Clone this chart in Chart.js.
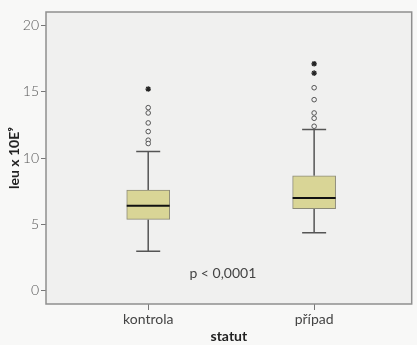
<!DOCTYPE html>
<html>
<head>
<meta charset="utf-8">
<script src="https://cdn.jsdelivr.net/npm/chart.js@4/dist/chart.umd.min.js"></script>
<style>
    html, body { margin: 0; padding: 0; background: #f8f8f7; }
    canvas { display: block; }
</style>
</head>
<body>
<canvas id="boxChart" width="417" height="345"></canvas>
<script>
const categories = ['kontrola', 'případ'];
const whiskerLow = [3.0, 4.38];
const quartile1 = [5.39, 6.2];
const medians = [6.41, 7.0];
const quartile3 = [7.59, 8.67];
const whiskerHigh = [10.5, 12.15];
const outlierCircles = [
    [13.8, 13.4, 12.65, 12.0, 11.35, 11.1],
    [15.3, 14.4, 13.4, 13.0, 12.4]
];
const outlierStars = [
    [15.2],
    [17.1, 16.4]
];
const yTicks = [0, 5, 10, 15, 20];
const pValueText = 'p < 0,0001';

const FONT = "Lato, 'Open Sans', sans-serif";
const BOX_WIDTH = 43;
const CAP_WIDTH = 24;

const decorPlugin = {
    id: 'boxDecor',
    beforeDraw(chart) {
        const { ctx, chartArea: a } = chart;
        ctx.save();
        ctx.fillStyle = '#f0f0ef';
        ctx.fillRect(a.left, a.top, a.right - a.left, a.bottom - a.top);
        ctx.restore();
    },
    beforeDatasetsDraw(chart) {
        const { ctx, scales: { x, y } } = chart;
        ctx.save();
        ctx.strokeStyle = '#555555';
        ctx.lineWidth = 1.5;
        categories.forEach((cat, i) => {
            const px = x.getPixelForValue(i);
            ctx.beginPath();
            ctx.moveTo(px, y.getPixelForValue(whiskerLow[i]));
            ctx.lineTo(px, y.getPixelForValue(quartile1[i]));
            ctx.moveTo(px, y.getPixelForValue(quartile3[i]));
            ctx.lineTo(px, y.getPixelForValue(whiskerHigh[i]));
            [whiskerLow[i], whiskerHigh[i]].forEach(v => {
                const py = y.getPixelForValue(v);
                ctx.moveTo(px - CAP_WIDTH / 2, py);
                ctx.lineTo(px + CAP_WIDTH / 2, py);
            });
            ctx.stroke();
        });
        ctx.restore();
    },
    afterDatasetsDraw(chart) {
        const { ctx, chartArea: a, scales: { x, y } } = chart;
        ctx.save();
        ctx.strokeStyle = '#111111';
        ctx.lineWidth = 2;
        categories.forEach((cat, i) => {
            const px = x.getPixelForValue(i);
            const py = y.getPixelForValue(medians[i]);
            ctx.beginPath();
            ctx.moveTo(px - BOX_WIDTH / 2, py);
            ctx.lineTo(px + BOX_WIDTH / 2, py);
            ctx.stroke();
        });

        ctx.fillStyle = '#444444';
        ctx.font = `14px ${FONT}`;
        ctx.textAlign = 'center';
        ctx.textBaseline = 'middle';
        ctx.fillText(pValueText, x.getPixelForValue(0.45), y.getPixelForValue(1.3));

        ctx.strokeStyle = '#8f8f8f';
        ctx.lineWidth = 1.5;
        ctx.strokeRect(a.left, a.top, a.right - a.left, a.bottom - a.top);
        ctx.restore();
    }
};

const ctx = document.getElementById('boxChart').getContext('2d');

const chart = new Chart(ctx, {
    type: 'scatter',
    data: {
        datasets: [
            {
                type: 'bar',
                data: categories.map((cat, i) => ({ x: i, y: [quartile1[i], quartile3[i]] })),
                backgroundColor: '#d9d596',
                borderColor: '#8c8a78',
                borderWidth: 1,
                borderSkipped: false,
                barThickness: BOX_WIDTH,
                order: 2
            },
            {
                type: 'scatter',
                data: outlierCircles.flatMap((vals, i) => vals.map(v => ({ x: i, y: v }))),
                pointStyle: 'circle',
                pointRadius: 2.3,
                borderColor: '#555555',
                backgroundColor: '#f2f2f2',
                borderWidth: 1,
                order: 1
            },
            {
                type: 'scatter',
                data: outlierStars.flatMap((vals, i) => vals.map(v => ({ x: i, y: v }))),
                pointStyle: 'star',
                pointRadius: 2.8,
                borderColor: '#222222',
                backgroundColor: '#222222',
                borderWidth: 1.3,
                order: 1
            }
        ]
    },
    options: {
        responsive: false,
        animation: false,
        events: [],
        layout: {
            padding: { top: 12, right: 4, bottom: 0, left: 0 }
        },
        scales: {
            x: {
                type: 'linear',
                min: -0.616,
                max: 1.588,
                offset: false,
                afterBuildTicks(scale) {
                    scale.ticks = categories.map((cat, i) => ({ value: i }));
                },
                afterFit(scale) {
                    scale.height = 41;
                },
                border: { display: false },
                grid: {
                    display: true,
                    offset: false,
                    drawOnChartArea: false,
                    drawTicks: true,
                    tickLength: 6,
                    color: '#777777'
                },
                ticks: {
                    padding: 1,
                    color: '#444444',
                    font: { family: FONT, size: 14 },
                    callback: value => categories[value]
                },
                title: {
                    display: true,
                    text: 'statut',
                    color: '#222222',
                    padding: { top: 0, bottom: 0 },
                    font: { family: FONT, size: 14, weight: 'bold' }
                }
            },
            y: {
                type: 'linear',
                min: -0.98,
                max: 21.0,
                afterBuildTicks(scale) {
                    scale.ticks = yTicks.map(v => ({ value: v }));
                },
                afterFit(scale) {
                    scale.width = 46;
                },
                border: { display: false },
                grid: {
                    display: true,
                    drawOnChartArea: false,
                    drawTicks: true,
                    tickLength: 5,
                    color: '#777777'
                },
                ticks: {
                    padding: 2,
                    color: '#555555',
                    font: { family: FONT, size: 14, weight: '300' }
                },
                title: {
                    display: true,
                    text: 'leu x 10E⁹',
                    color: '#222222',
                    padding: { top: 6, bottom: 2 },
                    font: { family: FONT, size: 14, weight: 'bold' }
                }
            }
        },
        plugins: {
            legend: { display: false },
            tooltip: { enabled: false }
        }
    },
    plugins: [decorPlugin]
});
</script>
</body>
</html>
